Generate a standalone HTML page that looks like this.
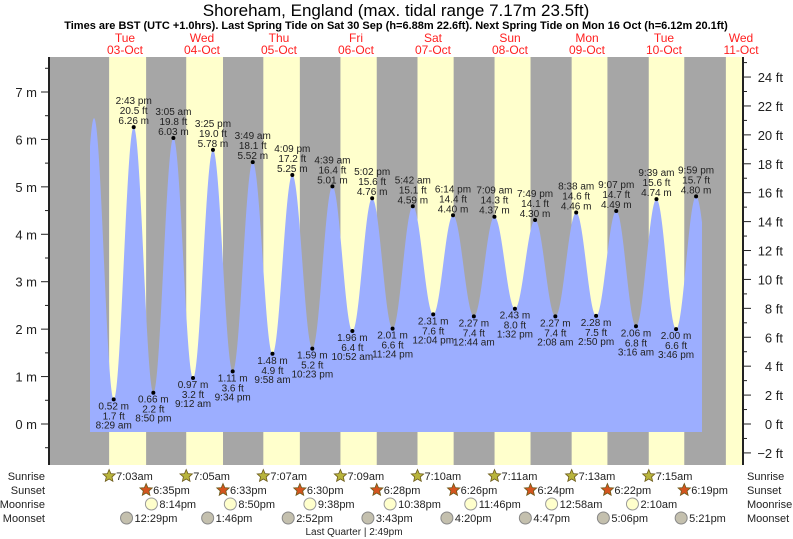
<!DOCTYPE html>
<html><head><meta charset="utf-8"><style>
body{margin:0;background:#fff;}
svg{display:block;font-family:"Liberation Sans",sans-serif;}
</style></head><body>
<svg id="c" width="793" height="539" viewBox="0 0 793 539">
<g id="bg"></g>
<path id="tide" fill="#9caeff"/>
<g id="ax"></g>
<g id="lab" font-size="10" fill="#222" text-anchor="middle"></g>
<g id="astro" font-size="11" fill="#222"></g>
<text x="396" y="16" font-size="17" text-anchor="middle">Shoreham, England (max. tidal range 7.17m 23.5ft)</text>
<text x="396" y="29" font-size="11" font-weight="bold" text-anchor="middle">Times are BST (UTC +1.0hrs). Last Spring Tide on Sat 30 Sep (h=6.88m 22.6ft). Next Spring Tide on Mon 16 Oct (h=6.12m 20.1ft)</text>
</svg>
<script>
// data: hours since Oct 3 00:00
const tideHours=[-3.8,2.35,8.483,14.717,20.833,27.083,33.2,39.417,45.567,51.817,57.967,64.15,70.383,76.65,82.867,89.033,95.4,101.7,108.067,114.233,120.733,127.15,133.533,139.817,146.133,152.633,158.833,165.117,171.267,177.65,183.767,190.0,196.3];
const tideMeters=[0.5,6.45,0.52,6.26,0.66,6.03,0.97,5.78,1.11,5.52,1.48,5.25,1.59,5.01,1.96,4.76,2.01,4.59,2.31,4.40,2.27,4.37,2.43,4.30,2.27,4.46,2.28,4.49,2.06,4.74,2.00,4.80,2.0];
const tideFeet=[null,null,"1.7","20.5","2.2","19.8","3.2","19.0","3.6","18.1","4.9","17.2","5.2","16.4","6.4","15.6","6.6","15.1","7.6","14.4","7.4","14.3","8.0","14.1","7.4","14.6","7.5","14.7","6.8","15.6","6.6","15.7",null];
const tideTimes=[null,null,"8:29 am","2:43 pm","8:50 pm","3:05 am","9:12 am","3:25 pm","9:34 pm","3:49 am","9:58 am","4:09 pm","10:23 pm","4:39 am","10:52 am","5:02 pm","11:24 pm","5:42 am","12:04 pm","6:14 pm","12:44 am","7:09 am","1:32 pm","7:49 pm","2:08 am","8:38 am","2:50 pm","9:07 pm","3:16 am","9:39 am","3:46 pm","9:59 pm",null];
const dayNames=["Tue","Wed","Thu","Fri","Sat","Sun","Mon","Tue","Wed"];
const dayDates=["03-Oct","04-Oct","05-Oct","06-Oct","07-Oct","08-Oct","09-Oct","10-Oct","11-Oct"];
const sunrise=["7:03am","7:05am","7:07am","7:09am","7:10am","7:11am","7:13am","7:15am","7:17am"];
const sunset=["6:35pm","6:33pm","6:30pm","6:28pm","6:26pm","6:24pm","6:22pm","6:19pm"];
const moonrise=[[0,"8:14pm"],[1,"8:50pm"],[2,"9:38pm"],[3,"10:38pm"],[4,"11:46pm"],[6,"12:58am"],[7,"2:10am"]];
const moonset=[[0,"12:29pm"],[1,"1:46pm"],[2,"2:52pm"],[3,"3:43pm"],[4,"4:20pm"],[5,"4:47pm"],[6,"5:06pm"],[7,"5:21pm"]];
const mTicks=[0,1,2,3,4,5,6,7];
const ftTicks=[-2,0,2,4,6,8,10,12,14,16,18,20,22,24];

const NS="http://www.w3.org/2000/svg";
const X0=49,X1=743,Y0=57,Y1=465;
const xh=h=>86.5+h*77/24;
const ym=m=>424-m*47.43;
const yft=f=>424-f*0.3048*47.43;
function hm(s){const m=s.match(/(\d+):(\d+)\s*(am|pm)/);let h=+m[1]%12;if(m[3]=="pm")h+=12;return h+m[2]/60;}
function el(p,tag,a,txt){const e=document.createElementNS(NS,tag);for(const k in a)e.setAttribute(k,a[k]);if(txt!=null)e.textContent=txt;p.appendChild(e);return e;}
const bg=document.getElementById('bg'),ax=document.getElementById('ax'),lab=document.getElementById('lab'),astro=document.getElementById('astro');
const bgr=el(bg,'rect',{x:X0,y:Y0,width:X1-X0,height:Y1-Y0,fill:'#a6a6a6'});


for(let d=0;d<9;d++){
  const a=xh(d*24+hm(sunrise[d])),b=d<8?xh(d*24+hm(sunset[d])):X1;
  const r=el(bg,'rect',{x:a,y:Y0,width:Math.min(b,X1)-a,height:Y1-Y0,fill:'#ffffcc'});
  
  
  const cx=Math.min(xh(d*24+12),765);
  const t1=el(ax,'text',{x:cx,y:42,'font-size':12,fill:'#ff2020','text-anchor':'middle'},dayNames[d]);
  
  
  const t2=el(ax,'text',{x:cx,y:54,'font-size':12,fill:'#ff2020','text-anchor':'middle'},dayDates[d]);
  
  
}
// tide curve
const xs=90,xe=702,base=432;
let d=`M${xs},${base}`;
for(let px=xs;px<=xe;px+=0.5){
  const h=(px-86.5)*24/77;let i=0;
  while(i<tideHours.length-2&&tideHours[i+1]<h)i++;
  const f=Math.max(0,Math.min(1,(h-tideHours[i])/(tideHours[i+1]-tideHours[i])));
  const v=tideMeters[i]+(tideMeters[i+1]-tideMeters[i])*(1-Math.cos(Math.PI*f))/2;
  d+=` L${px},${ym(v).toFixed(2)}`;
}
d+=` L${xe},${base} Z`;
document.getElementById('tide').setAttribute('d',d);
// labels
for(let i=0;i<tideHours.length;i++){
  if(!tideTimes[i])continue;
  const x=xh(tideHours[i]),y=ym(tideMeters[i]);
  const hi=tideMeters[i]>tideMeters[i-1];
  const dot=el(lab,'circle',{cx:x,cy:y,r:2,fill:'#000'});
  
  
  const ms=tideMeters[i].toFixed(2)+" m",fs=tideFeet[i]+" ft";
  const lines=hi?[[tideTimes[i],y-23],[fs,y-13],[ms,y-3]]:[[ms,y+10],[fs,y+20],[tideTimes[i],y+29]];
  for(const [t,yy] of lines){const tt=el(lab,'text',{x:x,y:yy},t);
    
    }
}
// axes
el(ax,'line',{x1:X0,y1:Y0,x2:X0,y2:Y1,stroke:'#222','stroke-width':2});
el(ax,'line',{x1:X1,y1:Y0,x2:X1,y2:Y1,stroke:'#222','stroke-width':2});
for(let m=-0.5;m<=7.5;m+=0.5){const y=ym(m);if(y<Y0||y>Y1)continue;el(ax,'line',{x1:X0-(m%1?4:8),y1:y,x2:X0,y2:y,stroke:'#222'});}
for(const m of mTicks){const t=el(ax,'text',{x:X0-12,y:ym(m)+5,'font-size':13,'text-anchor':'end',fill:'#222'},m+" m");
  
  }
for(let f=-3;f<=25;f++){const y=yft(f);if(y<Y0||y>Y1)continue;el(ax,'line',{x1:X1,y1:y,x2:X1+(f%2?4:8),y2:y,stroke:'#222'});}
for(const f of ftTicks){const t=el(ax,'text',{x:X1+40,y:yft(f)+5,'font-size':13,'text-anchor':'end',fill:'#222'},(f<0?"\u2212"+(-f):f)+" ft");
  
  }
// astro rows
const rows=[["Sunrise",476],["Sunset",490],["Moonrise",504],["Moonset",518]];
for(const [n,y] of rows){
  const a=el(astro,'text',{x:45,y:y+4,'text-anchor':'end'},n);
  const b=el(astro,'text',{x:747,y:y+4},n);
}
function star(x,y,fill){let p="";for(let k=0;k<10;k++){const r=k%2?3:6.5,an=-Math.PI/2+k*Math.PI/5;p+=(x+r*Math.cos(an)).toFixed(1)+","+(y+r*Math.sin(an)).toFixed(1)+" ";}
  const s=el(astro,'polygon',{points:p,fill:fill,stroke:'#6b5a1a','stroke-width':0.8});}
for(let i=0;i<8;i++){
  const x=xh(i*24+hm(sunrise[i]));star(x,476,'#b8b43c');
  const t=el(astro,'text',{x:x+7,y:480},sunrise[i]);
  const x2=xh(i*24+hm(sunset[i]));star(x2,490,'#d4541e');
  const t2=el(astro,'text',{x:x2+7,y:494},sunset[i]);
}
for(const [dd,s] of moonrise){const x=xh(dd*24+hm(s));
  const c=el(astro,'circle',{cx:x,cy:504,r:6,fill:'#ffffcc',stroke:'#999'});
  const t=el(astro,'text',{x:x+8,y:508},s);}
for(const [dd,s] of moonset){const x=xh(dd*24+hm(s));
  const c=el(astro,'circle',{cx:x,cy:518,r:6,fill:'#c4c0ae',stroke:'#888'});
  const t=el(astro,'text',{x:x+8,y:522},s);}
const lq=el(astro,'text',{x:354,y:535,'text-anchor':'middle','font-size':10},"Last Quarter | 2:49pm");


</script>
</body></html>
